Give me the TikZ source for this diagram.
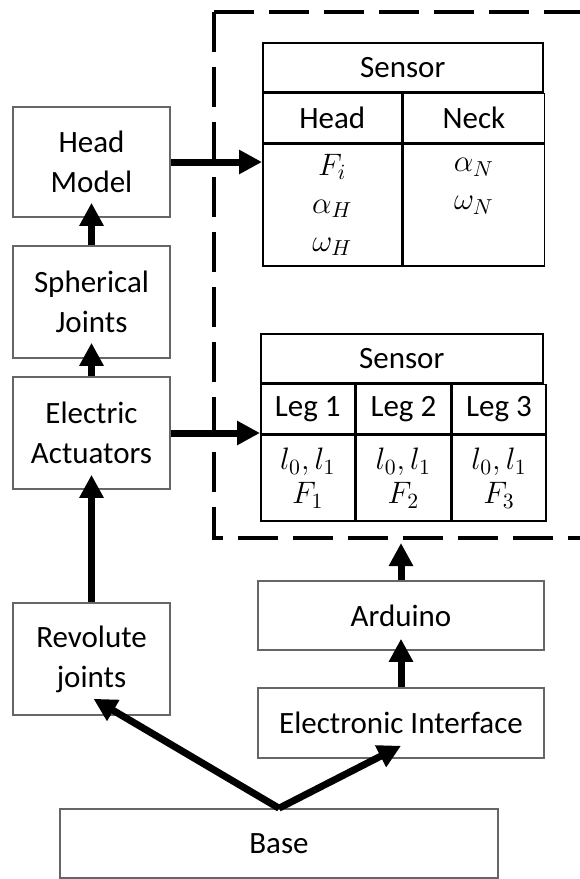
\documentclass[tikz,border=0pt]{standalone}
\usepackage{fix-cm}
\usepackage{fontspec}
\setmainfont{Carlito}
\usepackage{tikz}
\usetikzlibrary{arrows.meta}

\begin{document}
\begin{tikzpicture}[
        node distance=70pt,
        every node/.style={font=\fontsize{15.5}{20}\selectfont},
        box/.style={rectangle, draw=black!60, line width=0.8pt, minimum width=78.5pt, minimum height=56pt, align=center, inner sep=0pt},
        cell/.style={rectangle, draw, line width=0.8pt, minimum height=24.5pt, anchor=north west, align=center, inner sep=0pt},
        vals/.style={font=\fontsize{15.5}{19}\selectfont},
        arrow/.style={->, >={Triangle[length=11.5pt,width=11.5pt]}, line width=3.5pt},
        frame/.style={dash pattern=on 20pt off 7.5pt, line width=2pt}
    ]
        \useasboundingbox (0,0) rectangle (289.5pt,-439.5pt);

        % left column
        \node[box, minimum height=55pt] (head) at (45.75pt,-81pt) {Head\\Model};
        \node[box, below of=head] (sph) {Spherical\\Joints};
        \node[box, below of=sph, yshift=4.5pt] (elec) {Electric\\Actuators};
        \node[box, below of=elec, yshift=-43pt] (rev) {Revolute\\joints};

        % sensor table: head and neck
        \node[cell, minimum width=140pt] (sensA) at (131pt,-21pt) {Sensor};
        \node[cell, minimum width=69.5pt] (headcol) at (sensA.south west) {Head};
        \node[cell, minimum width=70.5pt] (neckcol) at (headcol.north east) {Neck};
        \node[cell, vals, minimum width=69.5pt, minimum height=61pt] (headval) at (headcol.south west) {$F_i$\\$\alpha_H$\\$\omega_H$};
        \node[cell, vals, minimum width=70.5pt, minimum height=61pt] (neckval) at (neckcol.south west) {$\alpha_N$\\$\omega_N$\\\phantom{$\omega_N$}};

        % sensor table: legs
        \node[cell, minimum width=141pt] (sensB) at (130pt,-166.5pt) {Sensor};
        \node[cell, minimum width=47pt] (leg1) at (sensB.south west) {Leg 1};
        \node[cell, minimum width=47pt] (leg2) at (leg1.north east) {Leg 2};
        \node[cell, minimum width=47pt] (leg3) at (leg2.north east) {Leg 3};
        \node[cell, vals, minimum width=47pt, minimum height=43pt] (legval1) at (leg1.south west) {$l_0, l_1$\\[-2pt]$F_1$};
        \node[cell, vals, minimum width=47pt, minimum height=43pt] (legval2) at (leg2.south west) {$l_0, l_1$\\[-2pt]$F_2$};
        \node[cell, vals, minimum width=47pt, minimum height=43pt] (legval3) at (leg3.south west) {$l_0, l_1$\\[-2pt]$F_3$};

        % right column and base
        \node[box, minimum width=143pt, minimum height=34.5pt] (ard) at (200.5pt,-307.75pt) {Arduino};
        \node[box, below of=ard, yshift=16.25pt, minimum width=143pt, minimum height=35pt] (ei) {Electronic Interface};
        \node[box, minimum width=219pt, minimum height=34.5pt] (base) at (139.5pt,-421.75pt) {Base};

        % dashed frame
        \coordinate (ftl) at (107pt,-6pt);
        \coordinate (fbl) at (107pt,-269pt);
        \coordinate (ftr) at (295pt,-6pt);
        \coordinate (fbr) at (295pt,-269pt);
        \draw[frame] (ftl) -- (ftr);
        \draw[frame] (ftl) -- (fbl) -- (fbr);

        \draw[arrow] (head.east) -- (head.east -| headval.west);
        \draw[arrow] (elec.east) -- (elec.east -| legval1.west);
        \draw[arrow, shorten >=-7.5pt] (sph.north) -- (head.south);
        \draw[arrow, shorten >=-8pt] (elec.north) -- (sph.south);
        \draw[arrow, shorten >=-7.5pt] (rev.north) -- (elec.south);
        \draw[arrow, shorten >=-6pt] (ei.north) -- (ard.south);
        \draw[arrow, shorten >=2.5pt] (ard.north) -- (ard.north |- fbl);
        \draw[arrow] (base.north) -- ([xshift=1pt,yshift=8.5pt]rev.south);
        \draw[arrow] (base.north) -- ([yshift=6.5pt]ei.south);
    \end{tikzpicture}
\end{document}
